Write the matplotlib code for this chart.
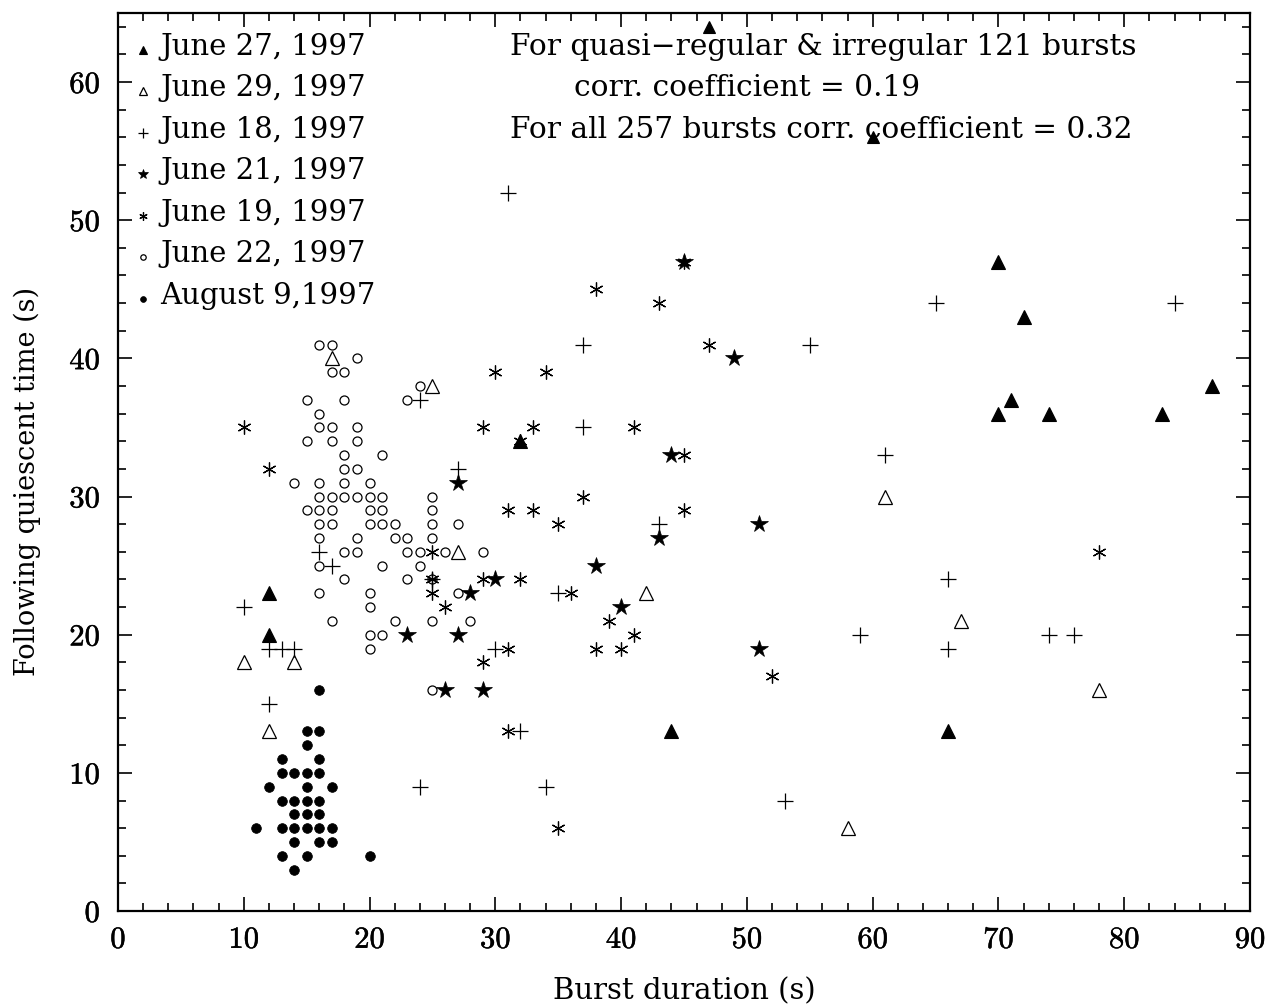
#!/usr/bin/env python3

import matplotlib
matplotlib.use('Agg')
import matplotlib.pyplot as plt
import matplotlib.patheffects as pe
from matplotlib.ticker import MultipleLocator

# June 27, 1997 (filled triangles)
june27_x = [47, 60, 70, 72, 87, 71, 70, 74, 83, 32, 12, 12, 44, 66]
june27_y = [64, 56, 47, 43, 38, 37, 36, 36, 36, 34, 23, 20, 13, 13]

# June 29, 1997 (open triangles)
june29_x = [17, 25, 61, 27, 42, 67, 10, 14, 78, 12, 58]
june29_y = [40, 38, 30, 26, 23, 21, 18, 18, 16, 13, 6]

# June 18, 1997 (plus)
june18_x = [31, 65, 84, 37, 55, 24, 37, 61, 27, 43, 16, 17, 66, 25, 35, 10, 59,
            74, 76, 12, 13, 14, 30, 66, 12, 32, 24, 34, 53]
june18_y = [52, 44, 44, 41, 41, 37, 35, 33, 32, 28, 26, 25, 24, 24, 23, 22, 20,
            20, 20, 19, 19, 19, 19, 19, 15, 13, 9, 9, 8]

# June 21, 1997 (filled stars)
june21_x = [45, 49, 44, 27, 51, 43, 38, 30, 28, 40, 23, 27, 51, 26, 29]
june21_y = [47, 40, 33, 31, 28, 27, 25, 24, 23, 22, 20, 20, 19, 16, 16]

# June 19, 1997 (asterisks)
june19_x = [45, 38, 43, 47, 30, 34, 10, 29, 33, 41, 32, 45, 12, 37, 31, 33, 45,
            35, 25, 78, 25, 29, 32, 25, 36, 26, 39, 41, 31, 38, 40, 29, 52, 31, 35]
june19_y = [47, 45, 44, 41, 39, 39, 35, 35, 35, 35, 34, 33, 32, 30, 29, 29, 29,
            28, 26, 26, 24, 24, 24, 23, 23, 22, 21, 20, 19, 19, 19, 18, 17, 13, 6]

# June 22, 1997 (open circles)
june22_x = [16, 17, 19, 17, 18, 24, 15, 18, 23, 16, 16, 17, 19, 15, 17, 19, 18, 21,
            18, 19, 14, 16, 18, 20, 16, 17, 18, 19, 20, 21, 25, 15, 16, 17, 20, 21, 25,
            16, 17, 20, 21, 22, 25, 27, 16, 19, 22, 23, 25, 18, 19, 23, 24, 26, 29,
            16, 21, 24, 18, 23, 25, 16, 20, 27, 20, 17, 22, 25, 28, 20, 21, 20, 25]
june22_y = [41, 41, 40, 39, 39, 38, 37, 37, 37, 36, 35, 35, 35, 34, 34, 34, 33, 33,
            32, 32, 31, 31, 31, 31, 30, 30, 30, 30, 30, 30, 30, 29, 29, 29, 29, 29, 29,
            28, 28, 28, 28, 28, 28, 28, 27, 27, 27, 27, 27, 26, 26, 26, 26, 26, 26,
            25, 25, 25, 24, 24, 24, 23, 23, 23, 22, 21, 21, 21, 21, 20, 20, 19, 16]

# August 9, 1997 (filled circles)
aug9_x = [16, 15, 16, 15, 13, 16, 13, 14, 15, 16, 12, 15, 17, 13, 14, 15, 16,
          14, 15, 16, 11, 13, 14, 15, 16, 17, 14, 16, 17, 13, 15, 20, 14]
aug9_y = [16, 13, 13, 12, 11, 11, 10, 10, 10, 10, 9, 9, 9, 8, 8, 8, 8,
          7, 7, 7, 6, 6, 6, 6, 6, 6, 5, 5, 5, 4, 4, 4, 3]

labels = ['June 27, 1997', 'June 29, 1997', 'June 18, 1997', 'June 21, 1997',
          'June 19, 1997', 'June 22, 1997', 'August 9,1997']

notes = ['For quasi\u2212regular & irregular 121 bursts',
         'corr. coefficient = 0.19',
         'For all 257 bursts corr. coefficient = 0.32']

plt.rcParams['font.family'] = ['cmr10', 'DejaVu Serif']
plt.rcParams['mathtext.fontset'] = 'cm'
plt.rcParams['axes.unicode_minus'] = False
TEXT_FONT = ['DejaVu Serif']

ASTERISK = (6, 2, 0)

styles = [
    dict(marker='^', ms=10, mfc='black', mec='black', mew=0.8),
    dict(marker='^', ms=10, mfc='none', mec='black', mew=0.9),
    dict(marker='+', ms=12, mec='black', mew=0.9),
    dict(marker='*', ms=13, mfc='black', mec='black', mew=0.5),
    dict(marker=ASTERISK, ms=10, mec='black', mew=0.9),
    dict(marker='o', ms=6.5, mfc='none', mec='black', mew=0.9),
    dict(marker='o', ms=7, mfc='black', mec='black', mew=0.5),
]
series = [(june27_x, june27_y), (june29_x, june29_y), (june18_x, june18_y),
          (june21_x, june21_y), (june19_x, june19_y), (june22_x, june22_y),
          (aug9_x, aug9_y)]

fig = plt.figure(figsize=(12.7, 10.06), dpi=100)
ax = fig.add_axes([0.0929, 0.0944, 0.8914, 0.8927])

for i, ((xs, ys), st) in enumerate(zip(series, styles)):
    if i == 0:
        # the two top triangles are drawn smaller in the original
        big = [(x, y) for x, y in zip(xs, ys) if y <= 50]
        small = [(x, y) for x, y in zip(xs, ys) if y > 50]
        ax.plot([p[0] for p in big], [p[1] for p in big], linestyle='none',
                color='black', **st)
        ax.plot([p[0] for p in small], [p[1] for p in small], linestyle='none',
                color='black', **dict(st, ms=8))
    else:
        ax.plot(xs, ys, linestyle='none', color='black', **st)

ax.set_xlim(0, 90)
ax.set_ylim(0, 65)
ax.xaxis.set_major_locator(MultipleLocator(10))
ax.xaxis.set_minor_locator(MultipleLocator(2))
ax.yaxis.set_major_locator(MultipleLocator(10))
ax.yaxis.set_minor_locator(MultipleLocator(2))
ax.tick_params(which='both', direction='in', top=True, right=True, width=1.2,
               labelsize=22)
ax.tick_params(axis='x', which='major', pad=11)
ax.tick_params(axis='y', which='major', pad=13)
ax.tick_params(which='major', length=10)
ax.tick_params(which='minor', length=5.5)
for sp in ax.spines.values():
    sp.set_linewidth(1.6)

# thicken the thin roman digits a little
for lab in ax.get_xticklabels() + ax.get_yticklabels():
    lab.set_path_effects([pe.withStroke(linewidth=0.35, foreground='black')])

ax.set_xlabel('Burst duration (s)', fontsize=21, family=TEXT_FONT)
ax.xaxis.set_label_coords(0.5, -0.0985)
ax.xaxis.label.set_va('baseline')
ax.set_ylabel('Following quiescent time (s)', fontsize=19.5, family=TEXT_FONT)
ax.yaxis.set_label_coords(-0.0805, 0.478)
ax.yaxis.label.set_va('center')

# legend drawn as a text column in the upper left
small_styles = [dict(st, ms=st['ms'] * 0.6) for st in styles]
for i, (lab, st) in enumerate(zip(labels, small_styles)):
    yy = 0.9532 - i * 0.0462
    ax.plot([0.022], [yy + 0.0056], transform=ax.transAxes, linestyle='none',
            color='black', clip_on=False, **st)
    ax.text(0.0371, yy, lab, transform=ax.transAxes, fontsize=21,
            family=TEXT_FONT, va='baseline', ha='left')

ax.text(0.3463, 0.9532, notes[0], transform=ax.transAxes, fontsize=21.3,
        family=TEXT_FONT, va='baseline', ha='left')
ax.text(0.4028, 0.9070, notes[1], transform=ax.transAxes, fontsize=21.3,
        family=TEXT_FONT, va='baseline', ha='left')
ax.text(0.3463, 0.8608, notes[2], transform=ax.transAxes, fontsize=21.3,
        family=TEXT_FONT, va='baseline', ha='left')

fig.savefig('out.png', dpi=100)
